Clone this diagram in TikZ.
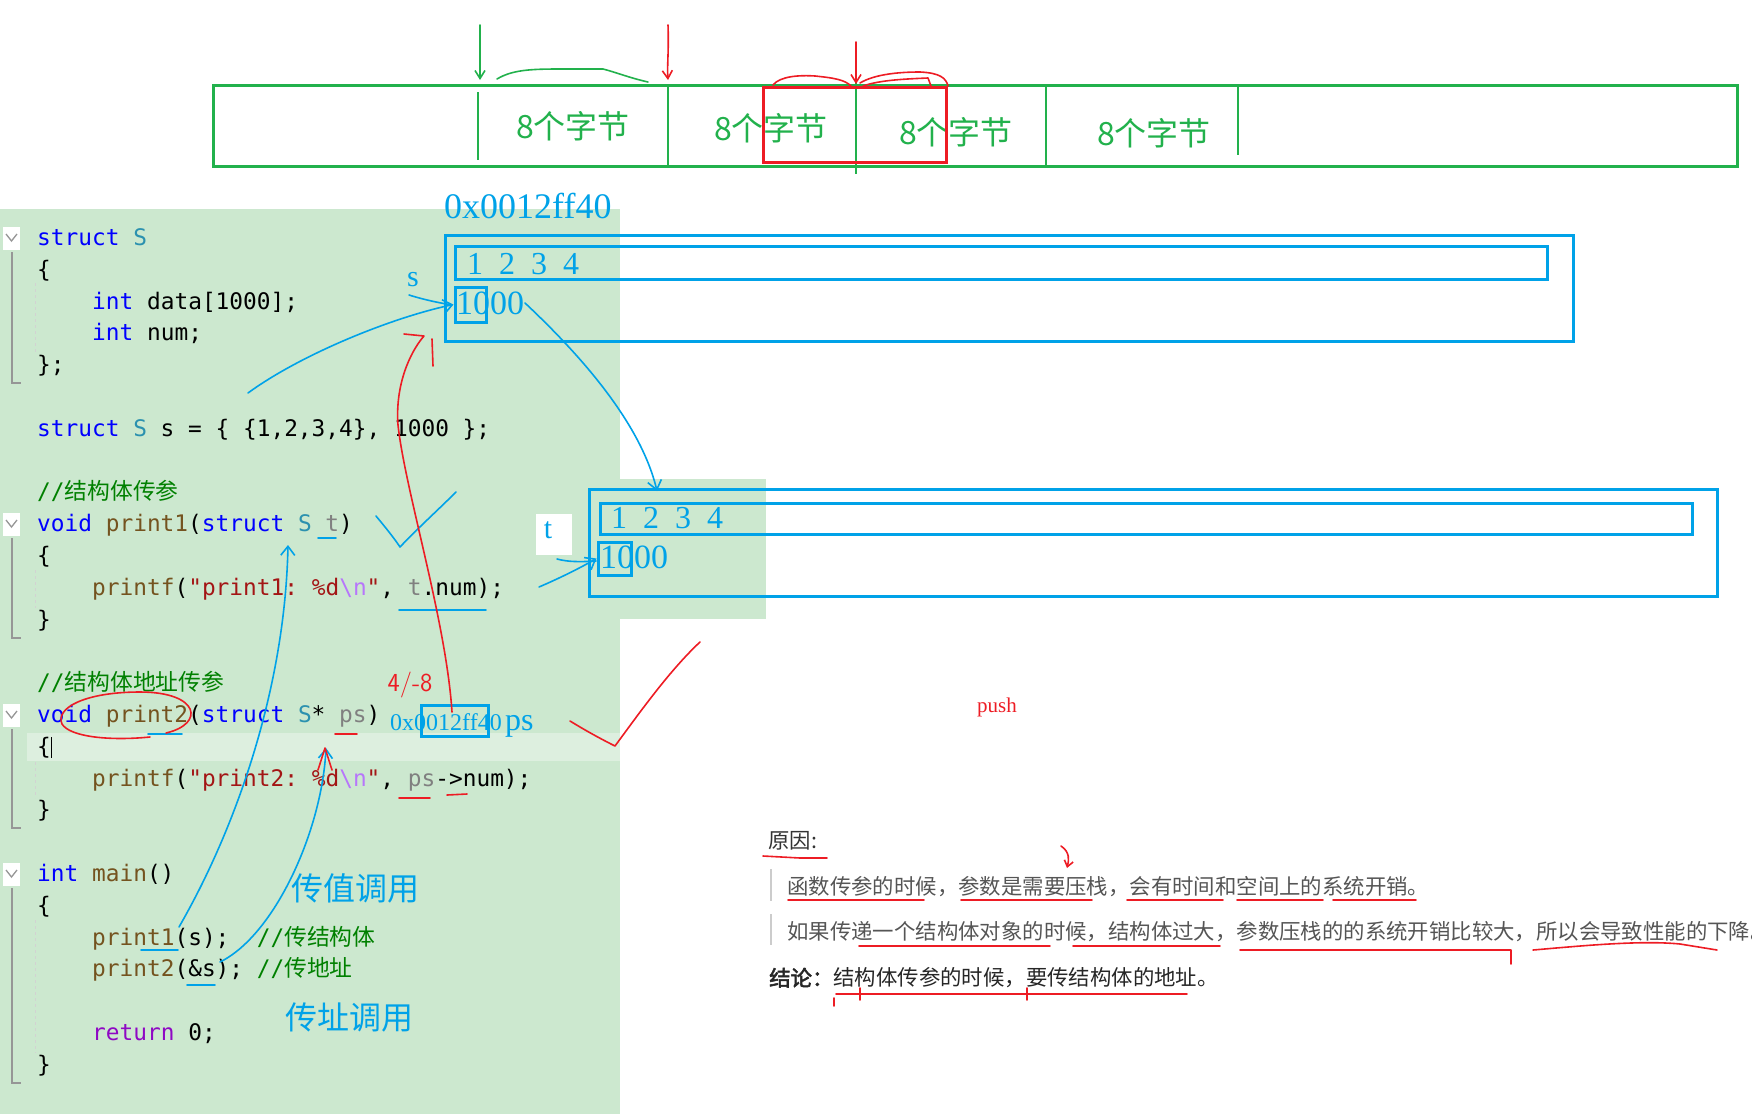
\documentclass[tikz,border=0pt]{standalone}
\usepackage{fontspec}
\setmainfont{Liberation Serif}
\setmonofont{DejaVu Sans Mono}
\newfontfamily\cjk{Noto Sans CJK SC}
\newfontfamily\cjkbold{Noto Sans CJK SC}[FakeBold=2.5]
\usetikzlibrary{arrows.meta, positioning}

\definecolor{codebg}{RGB}{204,232,207}
\definecolor{curline}{RGB}{221,239,223}
\definecolor{paintgreen}{RGB}{34,177,76}
\definecolor{paintred}{RGB}{237,28,36}
\definecolor{paintblue}{RGB}{0,162,232}
\definecolor{kwblue}{RGB}{0,0,255}
\definecolor{tyteal}{RGB}{43,145,175}
\definecolor{fnbrown}{RGB}{116,83,31}
\definecolor{strred}{RGB}{163,21,21}
\definecolor{escpurple}{RGB}{183,118,251}
\definecolor{cmgreen}{RGB}{0,128,0}
\definecolor{pargray}{RGB}{128,128,128}
\definecolor{retpurple}{RGB}{143,8,196}
\definecolor{notegray}{RGB}{85,85,85}
\definecolor{foldgray}{RGB}{150,150,150}

\newcommand\codefont{\ttfamily\fontsize{22.8}{28}\selectfont}
\newcommand\ckw[1]{\textcolor{kwblue}{#1}}
\newcommand\cty[1]{\textcolor{tyteal}{#1}}
\newcommand\cfn[1]{\textcolor{fnbrown}{#1}}
\newcommand\cstr[1]{\textcolor{strred}{#1}}
\newcommand\cesc[1]{\textcolor{escpurple}{#1}}
\newcommand\ccm[1]{\textcolor{cmgreen}{#1}}
\newcommand\cpar[1]{\textcolor{pargray}{#1}}
\newcommand\cret[1]{\textcolor{retpurple}{#1}}

\begin{document}
\begin{tikzpicture}[x=1pt, y=-1pt,
    code/.style={anchor=base west, inner sep=0pt, yshift=-7pt, font=\codefont},
    bytelabel/.style={inner sep=0pt, text=paintgreen, font=\cjk\fontsize{32}{32}\selectfont},
    membox/.style={draw=paintblue, line width=3pt, inner sep=0pt},
    memtext/.style={anchor=west, inner sep=0pt, text=paintblue, font=\fontsize{32}{32}\selectfont},
    note/.style={anchor=west, inner sep=0pt, text=notegray, font=\cjk\fontsize{21.4}{24}\selectfont},
    pen/.style={line width=1.6pt, line cap=round, line join=round},
    bluepen/.style={pen, paintblue},
    redpen/.style={pen, paintred},
    greenpen/.style={pen, paintgreen},
    barb/.style={-{Straight Barb[length=9pt, width=14pt]}}
  ]
  \useasboundingbox (0,0) rectangle (1752,1114);

  % code editor background
  \fill[codebg] (0,209) rectangle (620,1114);
  \fill[codebg] (620,479) rectangle (766,619);
  \fill[curline] (27,733) rectangle (620,761);

  % fold markers and guides
  \foreach \a/\b in {238/365, 524/620, 715/810, 874/1065} {
    \fill[white] (3,\a-11) rectangle (20,\a+12);
    \draw[foldgray, line width=1.3pt] (6,\a-4) -- (11.5,\a+3) -- (17,\a-4);
    \draw[foldgray, line width=1.3pt] (12,\a+14) -- (12,\b+18) -- (21,\b+18);
  }
  \foreach \a/\b in {283/353, 570/608, 762/798, 920/1053}
    \draw[gray!35, line width=1pt, dash pattern=on 3pt off 3pt] (35,\a) -- (35,\b);

  % source lines
  \node[code] (c0) at (37,238) {\ckw{struct} \cty{S}};
  \node[code] (c1) at (37,270) {\{};
  \node[code] (c2) at (92,302) {\ckw{int} data[1000];};
  \node[code] (c3) at (92,333) {\ckw{int} num;};
  \node[code] (c4) at (37,365) {\};};
  \node[code] (c6) at (37,429) {\ckw{struct} \cty{S} s = \{ \{1,2,3,4\}, 1000 \};};
  \node[code] (c8) at (37,492) {\ccm{//{\cjk 结构体传参}}};
  \node[code] (c9) at (37,524) {\ckw{void} \cfn{print1}(\ckw{struct} \cty{S} \cpar{t})};
  \node[code] (c10) at (37,556) {\{};
  \node[code] (c11) at (92,588) {\cfn{printf}(\cstr{"print1: \%d}\cesc{\textbackslash n}\cstr{"}, \cpar{t}.num);};
  \node[code] (c12) at (37,620) {\}};
  \node[code] (c14) at (37,683) {\ccm{//{\cjk 结构体地址传参}}};
  \node[code] (c15) at (37,715) {\ckw{void} \cfn{print2}(\ckw{struct} \cty{S}* \cpar{ps})};
  \node[code] (c16) at (37,747) {\{};
  \node[code] (c17) at (92,779) {\cfn{printf}(\cstr{"print2: \%d}\cesc{\textbackslash n}\cstr{"}, \cpar{ps}->num);};
  \node[code] (c18) at (37,810) {\}};
  \node[code] (c20) at (37,874) {\ckw{int} \cfn{main}()};
  \node[code] (c21) at (37,906) {\{};
  \node[code] (c22) at (92,938) {\cfn{print1}(s);\ \ \ccm{//{\cjk 传结构体}}};
  \node[code] (c23) at (92,969) {\cfn{print2}(\&s);\ \ccm{//{\cjk 传地址}}};
  \node[code] (c25) at (92,1033) {\cret{return} 0;};
  \node[code] (c26) at (37,1065) {\}};
  \draw[black, line width=1pt] (51,737) -- (51,758);

  % memory bar on top
  \draw[paintgreen, line width=3pt] (213,85) rectangle (1737,166);
  \draw[paintgreen, line width=1.6pt] (478,92) -- (478,160);
  \draw[paintgreen, line width=1.6pt] (668,85) -- (668,166);
  \draw[paintgreen, line width=1.6pt] (856,70) -- (856,174);
  \draw[paintgreen, line width=1.6pt] (1046,85) -- (1046,166);
  \draw[paintgreen, line width=1.6pt] (1238,85) -- (1238,155);
  \node[bytelabel] (byte1) at (573,126) {8个字节};
  \node[bytelabel] (byte2) at (771,128) {8个字节};
  \node[bytelabel] (byte3) at (956,132) {8个字节};
  \node[bytelabel] (byte4) at (1154,133) {8个字节};
  \draw[paintred, line width=3pt] (763,87) rectangle (946,162);

  \coordinate (gtop) at (480,25);
  \coordinate (gbot) at (480,80);
  \coordinate (rtopa) at (668,25);
  \coordinate (rbota) at (668,80);
  \coordinate (rtopb) at (856,42);
  \coordinate (rbotb) at (856,84);
  \draw[greenpen, -{Straight Barb[length=8pt, width=10pt]}] (gtop) -- (gbot);
  \draw[redpen, -{Straight Barb[length=8pt, width=10pt]}] (rtopa) .. controls (669,50) and (667,65) .. (rbota);
  \draw[redpen, -{Straight Barb[length=8pt, width=10pt]}] (rtopb) -- (rbotb);
  \draw[greenpen] (497,79) .. controls (512,70) and (530,69) .. (560,69)
    -- (603,69) .. controls (615,72) and (630,78) .. (648,82);
  \draw[redpen] (773,85) .. controls (780,76) and (800,75) .. (815,76)
    .. controls (835,78) and (845,80) .. (851,86);
  \draw[redpen] (860,83) .. controls (875,74) and (900,72) .. (920,72)
    .. controls (940,73) and (946,78) .. (948,86);
  \draw[redpen] (863,86) .. controls (880,80) and (905,79) .. (928,78) -- (931,86);

  % struct s in memory
  \node[memtext, font=\fontsize{36}{36}\selectfont] (saddr) at (444,206) {0x0012ff40};
  \draw[paintblue, line width=3pt] (445,235) rectangle (1573,341);
  \draw[paintblue, line width=3pt] (455,246) rectangle (1547,279);
  \node[membox, minimum width=31pt, minimum height=35pt] (sone) at (470.5,304.5) {};
  \node[memtext] (sdata) at (467,264) {1~~2~~3~~4};
  \node[memtext, font=\fontsize{34}{34}\selectfont] (snum) at (456,303) {1000};
  \node[memtext, font=\fontsize{30}{30}\selectfont, anchor=center] (slabel) at (413,280) {s};

  % struct t (copy) in memory
  \draw[paintblue, line width=3pt] (589,489) rectangle (1717,596);
  \draw[paintblue, line width=3pt] (600,503) rectangle (1692,534);
  \node[membox, minimum width=33pt, minimum height=33pt] (tone) at (614.5,558.5) {};
  \node[memtext] (tdata) at (611,518) {1~~2~~3~~4};
  \node[memtext, font=\fontsize{34}{34}\selectfont] (tnum) at (600,557) {1000};
  \node[fill=white, minimum width=36pt, minimum height=41pt, inner sep=0pt] (tbg) at (554,534) {};
  \node[memtext, font=\fontsize{30}{30}\selectfont, anchor=center] (tlabel) at (548,530) {t};

  % pointer ps
  \node[membox, minimum width=67pt, minimum height=31pt] (psbox) at (454.5,720.5) {};
  \node[memtext, font=\fontsize{24}{24}\selectfont] (psaddr) at (390,722) {0x0012ff40};
  \node[memtext] (psname) at (505,726) {ps};

  % labels
  \node[text=paintblue, font=\cjk\fontsize{32}{32}\selectfont, inner sep=0pt] (byval) at (355,888) {传值调用};
  \node[text=paintblue, font=\cjk\fontsize{32}{32}\selectfont, inner sep=0pt] (byaddr) at (349,1017) {传址调用};
  \node[text=paintred, font=\sffamily\fontsize{26}{26}\selectfont, inner sep=0pt] (size) at (410,685) {4/-8};
  \node[text=paintred, font=\fontsize{21}{21}\selectfont, inner sep=0pt] (push) at (997,707) {push};

  % notes
  \node[note, text=black!80] (why) at (768,841) {原因:};
  \draw[gray!40, line width=2.5pt] (771,869) -- (771,901);
  \draw[gray!40, line width=2.5pt] (771,914) -- (771,945);
  \node[note] (why1) at (787,887) {函数传参的时候，参数是需要压栈，会有时间和空间上的系统开销。};
  \node[note] (why2) at (787,932) {如果传递一个结构体对象的时候，结构体过大，参数压栈的的系统开销比较大，所以会导致性能的下降。};
  \node[note, text=black!85] (concl) at (769,978) {{\cjkbold 结论：}结构体传参的时候，要传结构体的地址。};

  % blue pen strokes
  \coordinate (sdecl) at (248,393);
  \coordinate (snumend) at (525,303);
  \coordinate (ttop) at (657,491);
  \coordinate (ttail) at (539,587);
  \coordinate (callone) at (179,927);
  \coordinate (tparam) at (288,545);
  \coordinate (calltwo) at (220,962);
  \coordinate (psparam) at (326,748);
  \draw[bluepen, barb] (sdecl) .. controls (300,355) and (390,318) .. (sone.west);
  \draw[bluepen] (409,295) .. controls (425,300) and (440,303) .. (452,305);
  \draw[bluepen, barb] (snumend) .. controls (575,350) and (640,420) .. (ttop);
  \draw[bluepen, barb] (ttail) .. controls (560,578) and (580,568) .. (tone.west);
  \draw[bluepen] (557,559) .. controls (568,562) and (580,562) .. (596,561);
  \draw[bluepen, barb] (callone) .. controls (235,830) and (285,690) .. (tparam);
  \draw[bluepen, barb] (calltwo) .. controls (275,935) and (322,830) .. (psparam);
  \draw[bluepen] (376,516) .. controls (386,528) and (394,538) .. (400,547)
    .. controls (418,528) and (438,510) .. (456,492);
  \draw[bluepen] (399,610) -- (486,610);
  \draw[bluepen] (141,950) -- (178,950);
  \draw[bluepen] (187,985) -- (215,985);
  \draw[bluepen] (148,734) -- (182,734);
  \draw[bluepen] (318,538) -- (336,538);

  % red pen strokes
  \draw[redpen] (452,712) .. controls (446,620) and (405,490) .. (398,425)
    .. controls (395,385) and (410,352) .. (424,336) -- (404,334);
  \draw[redpen] (432,339) -- (433,366);
  \draw[redpen] (166,733) .. controls (205,724) and (200,692) .. (140,692)
    .. controls (85,692) and (55,708) .. (62,724) .. controls (70,737) and (110,741) .. (150,737);
  \draw[redpen] (335,734) -- (357,734);
  \draw[redpen] (399,798) -- (430,798);
  \draw[redpen] (447,795) -- (467,794);
  \draw[redpen] (318,770) -- (325,748) -- (332,770);
  \draw[redpen] (570,721) .. controls (588,732) and (603,740) .. (615,746)
    .. controls (640,712) and (670,670) .. (700,642);
  \draw[redpen] (763,856) -- (800,858) -- (827,858);
  \draw[redpen, -{Straight Barb[length=6pt, width=9pt]}] (1061,846) .. controls (1070,852) and (1069,860) .. (1067,868);
  \draw[redpen] (788,900) -- (924,900);
  \draw[redpen] (961,900) -- (1092,900);
  \draw[redpen] (1127,900) -- (1223,900);
  \draw[redpen] (1237,900) -- (1323,900);
  \draw[redpen] (1333,900) -- (1416,900);
  \draw[redpen] (859,946) -- (1050,946);
  \draw[redpen] (1073,946) -- (1220,946);
  \draw[redpen] (1240,950) -- (1511,950) -- (1511,964);
  \draw[redpen] (1533,950) .. controls (1580,946) and (1640,940) .. (1680,944) -- (1717,950);
  \draw[redpen] (836,994) -- (1187,994);
  \draw[redpen] (860,988) -- (860,1000);
  \draw[redpen] (1027,988) -- (1027,1000);
  \draw[redpen] (834,998) -- (834,1006);
\end{tikzpicture}
\end{document}
